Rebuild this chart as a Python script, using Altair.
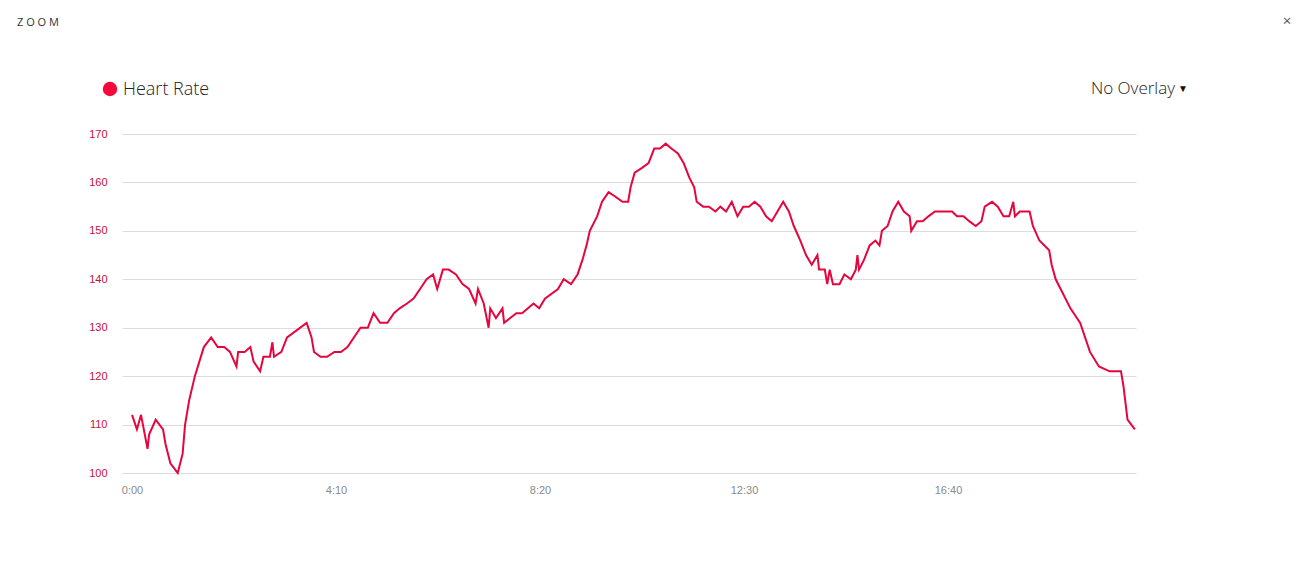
import altair as alt
import pandas as pd

# elapsed time (seconds) and heart rate (bpm)
seconds = [0, 6, 11, 19, 21, 29, 38, 41, 47, 56, 62, 65, 70, 77, 88, 97, 105, 113, 120, 128,
           130, 138, 145, 149, 157, 161, 169, 172, 174, 183, 190, 214, 220, 223, 231, 239, 248, 256, 264, 280,
           289, 296, 304, 313, 321, 328, 337, 345, 353, 361, 369, 374, 381, 388, 397, 405, 413, 421, 424, 431,
           437, 439, 446, 454, 456, 471, 478, 492, 499, 506, 522, 529, 538, 546, 552, 557, 561, 570, 576, 584,
           593, 601, 608, 611, 616, 625, 633, 640, 647, 654, 661, 669, 676, 683, 689, 692, 700, 707, 715, 721,
           728, 735, 742, 749, 756, 763, 770, 777, 784, 791, 798, 805, 811, 819, 826, 833, 840, 842, 849, 852,
           855, 859, 867, 873, 881, 887, 889, 891, 897, 904, 911, 916, 919, 926, 932, 939, 946, 953, 955, 962,
           969, 976, 984, 1005, 1011, 1019, 1026, 1034, 1041, 1045, 1054, 1061, 1068, 1075, 1080, 1082, 1088, 1100, 1104, 1112,
           1124, 1127, 1132, 1141, 1150, 1162, 1174, 1185, 1198, 1212, 1215, 1220, 1229]
heart_rate = [112, 109, 112, 105, 108, 111, 109, 106, 102, 100, 104, 110, 115, 120, 126, 128, 126, 126, 125, 122,
              125, 125, 126, 123, 121, 124, 124, 127, 124, 125, 128, 131, 128, 125, 124, 124, 125, 125, 126, 130,
              130, 133, 131, 131, 133, 134, 135, 136, 138, 140, 141, 138, 142, 142, 141, 139, 138, 135, 138, 135,
              130, 134, 132, 134, 131, 133, 133, 135, 134, 136, 138, 140, 139, 141, 144, 147, 150, 153, 156, 158,
              157, 156, 156, 159, 162, 163, 164, 167, 167, 168, 167, 166, 164, 161, 159, 156, 155, 155, 154, 155,
              154, 156, 153, 155, 155, 156, 155, 153, 152, 154, 156, 154, 151, 148, 145, 143, 145, 142, 142, 139,
              142, 139, 139, 141, 140, 142, 145, 142, 144, 147, 148, 147, 150, 151, 154, 156, 154, 153, 150, 152,
              152, 153, 154, 154, 153, 153, 152, 151, 152, 155, 156, 155, 153, 153, 156, 153, 154, 154, 151, 148,
              146, 143, 140, 137, 134, 131, 125, 122, 121, 121, 118, 111, 109]

x_ticks = [0, 250, 500, 750, 1000]
y_ticks = [100, 110, 120, 130, 140, 150, 160, 170]

df = pd.DataFrame({"t": seconds, "hr": heart_rate})

RED = "#e4063d"

x_enc = alt.X("t:Q",
              scale=alt.Scale(domain=[-12.3, 1230.4], nice=False, zero=False),
              axis=alt.Axis(values=x_ticks, grid=False, domain=False, ticks=False,
                            labelExpr="floor(datum.value/60) + ':' + (datum.value%60 < 10 ? '0' : '') + (datum.value%60)",
                            labelColor="#8a8a8a", labelFontSize=11, labelFont="Liberation Sans",
                            labelPadding=11, title=None))
y_enc = alt.Y("hr:Q",
              scale=alt.Scale(domain=[100, 170], nice=False, zero=False),
              axis=alt.Axis(values=y_ticks, grid=True, gridColor="#dddddd", gridWidth=1,
                            domain=False, ticks=False, labelColor="#c8103c", labelFontSize=11,
                            labelFont="Liberation Sans", labelPadding=15, title=None))

line = alt.Chart(df).mark_line(color=RED, strokeWidth=2, interpolate="linear").encode(x=x_enc, y=y_enc)

def label(text, x, y, size, color="#222222", align="left", weight="normal", font="Open Sans"):
    return alt.Chart(pd.DataFrame({"s": [text]})).mark_text(
        align=align, baseline="middle", fontSize=size, color=color, font=font, fontWeight=weight
    ).encode(text="s:N", x=alt.value(x), y=alt.value(y))

zoom_lbl = label("Z O O M", -105, -111, 11, color="#333333")
hr_lbl = label("Heart Rate", 1, -44, 18, color="#222222", weight=300)
overlay_lbl = label("No Overlay", 1053, -45, 17, color="#222222", align="right", weight=300)
arrow_lbl = label("▼", 1066, -45, 10, color="#111111", align="right")
close_lbl = label("×", 1165, -113, 15, color="#555555", align="center")

dot = alt.Chart(pd.DataFrame({"s": ["Heart Rate"]})).mark_point(
    shape="circle", filled=True, size=210, color="#f5083c", opacity=1
).encode(x=alt.value(-12), y=alt.value(-45))

chart = alt.layer(line, dot, zoom_lbl, hr_lbl, overlay_lbl, arrow_lbl, close_lbl).properties(
    width=1014, height=339,
    autosize=alt.AutoSizeParams(type="none"),
    padding={"left": 114, "top": 126, "right": 166, "bottom": 60},
    background="white",
).configure_view(stroke=None)

chart.save("out.html", embed_options={"renderer": "svg", "actions": False})
